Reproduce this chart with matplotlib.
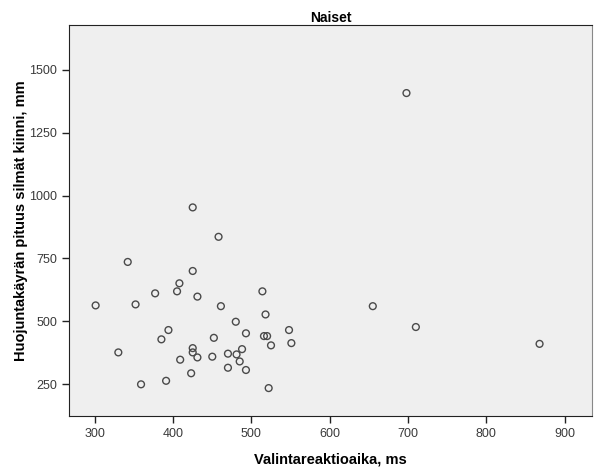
import matplotlib.pyplot as plt

plt.rcParams['font.family'] = ['Liberation Sans', 'DejaVu Sans']

# valintareaktioaika (ms) ja huojuntakäyrän pituus (mm)
reaction_ms = [301, 342, 352, 377, 408, 405, 425, 431, 458, 461,
               330, 359, 394, 385, 391, 409, 423, 425, 425, 431,
               450, 452, 470, 470, 480, 481, 485, 488, 493, 493,
               514, 518, 516, 520, 525, 522, 548, 551, 655, 710,
               868, 425, 698]
sway_mm = [563, 736, 567, 611, 651, 619, 700, 598, 836, 560,
           376, 249, 465, 428, 263, 347, 293, 393, 376, 356,
           359, 434, 371, 315, 498, 368, 340, 389, 306, 452,
           619, 527, 441, 441, 404, 234, 465, 413, 560, 477,
           410, 953, 1408]

xticks = [300, 400, 500, 600, 700, 800, 900]
yticks = [250, 500, 750, 1000, 1250, 1500]

fig = plt.figure(figsize=(5.98, 4.71), dpi=100)
ax = fig.add_axes([0.1154, 0.1168, 0.8746, 0.8302])
ax.set_facecolor('#efefef')

ax.scatter(reaction_ms, sway_mm, s=24, facecolors='none',
           edgecolors='#4a4a4a', linewidths=1.0, zorder=3)

ax.set_xlim(267, 935)
ax.set_ylim(123, 1679)
ax.set_xticks(xticks)
ax.set_yticks(yticks)
ax.tick_params(direction='out', length=5, width=1, colors='#222222',
               labelsize=9, labelcolor='#3a3a3a')

for side in ['left', 'bottom', 'top']:
    ax.spines[side].set_color('#222222')
ax.spines['right'].set_color('#888888')

ax.set_xlabel('Valintareaktioaika, ms', fontsize=10.5, fontweight='bold', labelpad=9)
ax.set_ylabel('Huojuntakäyrän pituus silmät kiinni, mm', fontsize=10.5,
              fontweight='bold', labelpad=1)
ax.set_title('Naiset', fontsize=10, fontweight='bold', pad=0)

fig.savefig('out.png', dpi=100)
